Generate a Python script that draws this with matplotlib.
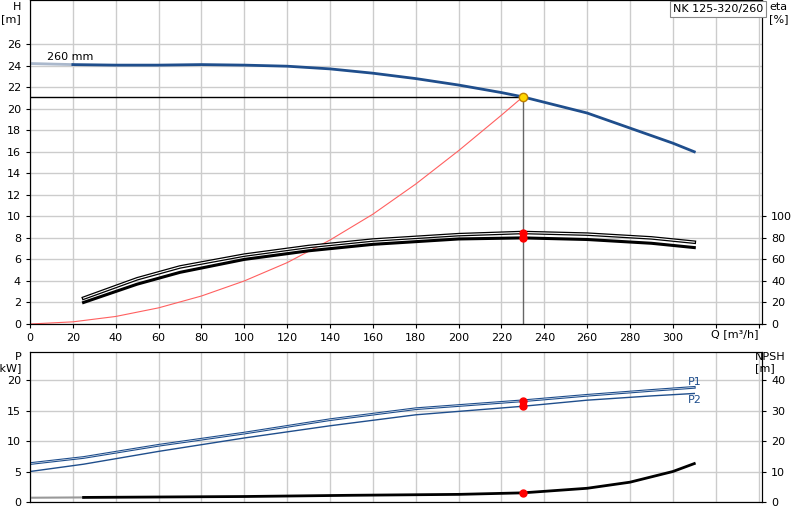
import matplotlib
matplotlib.use("Agg")
import matplotlib.pyplot as plt

q_h = [0, 20, 40, 60, 80, 100, 120, 140, 160, 180, 200, 220, 230, 260, 280, 300, 310]
h = [24.2, 24.1, 24.05, 24.05, 24.1, 24.05, 23.95, 23.7, 23.3, 22.8, 22.2, 21.5, 21.1, 19.6, 18.2, 16.8, 16.0]
q_sys = [0, 20, 40, 60, 80, 100, 120, 140, 160, 180, 200, 220, 230]
h_sys = [0, 0.2, 0.7, 1.5, 2.6, 4.0, 5.7, 7.8, 10.2, 13.0, 16.1, 19.4, 21.1]
q_eta = [25, 50, 70, 100, 130, 160, 200, 230, 260, 290, 310]
eta_low = [20, 37, 48, 60, 68, 74, 79, 80, 78.5, 75, 71]
eta_up = [24, 42, 53, 64, 72, 78, 83, 85, 83.5, 80, 76]
q_p = [0, 25, 60, 100, 140, 180, 230, 260, 290, 310]
p1 = [6.3, 7.3, 9.3, 11.3, 13.5, 15.3, 16.6, 17.5, 18.3, 18.8]
p2 = [5.0, 6.2, 8.3, 10.5, 12.5, 14.3, 15.7, 16.7, 17.4, 17.8]
q_n = [0, 25, 100, 150, 200, 230, 260, 280, 300, 310]
npsh = [1.4, 1.5, 1.8, 2.2, 2.5, 3.0, 4.5, 6.5, 10.0, 12.6]
q_op, h_op, eta_op1, eta_op2 = 230, 21.1, 80, 85

blue = "#1f4e8c"
fs = 8
fig = plt.figure(figsize=(8, 5.2), dpi=100)
W = 732/800
ax = fig.add_axes([30/800, 196/520, W, 324/520])
xmax = 341.6
ax.set_xlim(0, xmax); ax.set_ylim(0, 30.1)
ax.set_xticks(range(0, 341, 20)); ax.set_yticks(range(0, 27, 2))
ax.set_xticklabels([str(v) if 0 <= v <= 300 else "" for v in range(0, 341, 20)], fontsize=fs)
ax.tick_params(labelsize=fs, length=3)
ax.grid(True, color="#cccccc", lw=1)
ax.set_axisbelow(True)
ax.text(-0.012, 0.995, "H\n[m]", transform=ax.transAxes, ha="right", va="top", fontsize=fs, linespacing=1.3)
ax.text(329, -0.5, "Q [m³/h]", ha="center", va="top", fontsize=fs)
ax.plot(q_sys, h_sys, color="#ff6060", lw=0.8)
ax.plot([0, q_op], [h_op, h_op], color="black", lw=1)
ax.plot([q_op, q_op], [0, h_op], color="#666666", lw=1)
ax.plot(q_h[:2], h[:2], color="#aab8cc", lw=2)
ax.plot(q_h[1:], h[1:], color=blue, lw=2)
ax.text(8, 24.5, "260 mm", fontsize=fs)
ax2 = ax.twinx()
ax2.set_ylim(0, 301)
ax2.set_yticks(range(0, 101, 20))
ax2.tick_params(labelsize=fs, length=3)
ax2.plot(q_eta, eta_up, color="black", lw=2.6)
ax2.plot(q_eta, eta_up, color="white", lw=0.8)
ax2.plot(q_eta, eta_low, color="black", lw=2.2)
ax2.plot([q_op, q_op], [eta_op1, eta_op2], "o", color="red", ms=5)
ax.plot(q_op, h_op, "o", color="#ffd700", mec="#c08000", ms=6, zorder=5)
ax2.text(1.01, 0.995, "eta\n[%]", transform=ax2.transAxes, ha="left", va="top", fontsize=fs, linespacing=1.3)
fig.text(718/800, 1-9/520, "NK 125-320/260", ha="center", va="center", fontsize=fs,
         bbox=dict(boxstyle="square,pad=0.3", fc="white", ec="#888888", lw=0.8))

bx = fig.add_axes([30/800, 18/520, W, 150/520])
bx.set_xlim(0, xmax); bx.set_ylim(0, 24.6)
bx.set_xticks(range(0, 341, 20)); bx.set_xticklabels([])
bx.set_yticks(range(0, 21, 5))
bx.tick_params(labelsize=fs, length=0, axis="x")
bx.tick_params(labelsize=fs, length=3, axis="y")
bx.grid(True, color="#cccccc", lw=1)
bx.set_axisbelow(True)
bx.plot(q_p, p1, color=blue, lw=2)
bx.plot(q_p, p1, color="white", lw=0.4)
bx.plot(q_p, p2, color=blue, lw=1)
bx.plot([q_op, q_op], [16.6, 15.7], "o", color="red", ms=5)
bx.text(307, 19.2, "P1", color=blue, fontsize=fs)
bx.text(307, 16.3, "P2", color=blue, fontsize=fs)
bx.text(-0.012, 1.0, "P\n[kW]", transform=bx.transAxes, ha="right", va="top", fontsize=fs, linespacing=1.1)
bx2 = bx.twinx()
bx2.set_ylim(0, 49.2)
bx2.set_yticks(range(0, 41, 10))
bx2.tick_params(labelsize=fs, length=3)
bx2.plot(q_n[:2], npsh[:2], color="#999999", lw=1.5)
bx2.plot(q_n[1:], npsh[1:], color="black", lw=2)
bx2.plot(q_op, 3.0, "o", color="red", ms=5)
bx2.text(0.99, 1.0, "NPSH\n[m]", transform=bx2.transAxes, ha="left", va="top", fontsize=fs, linespacing=1.1)
fig.savefig("out.png", dpi=100)
